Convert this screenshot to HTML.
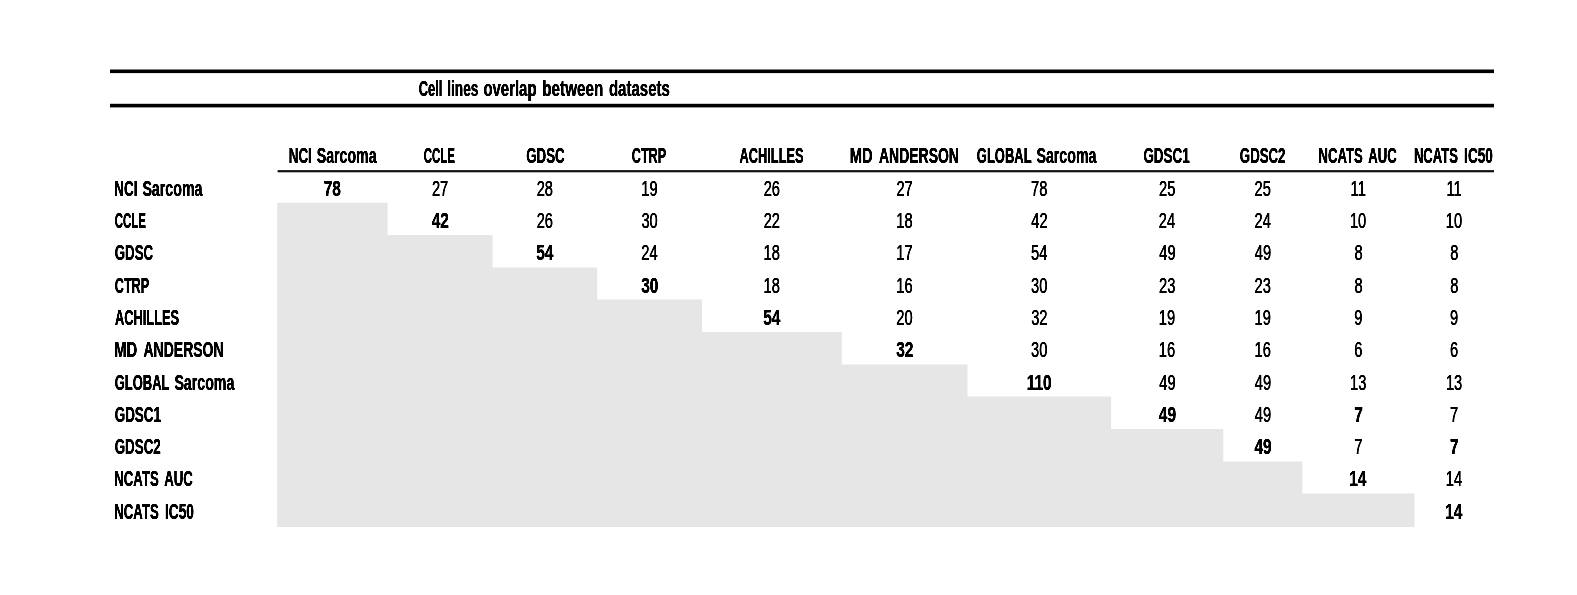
<!DOCTYPE html>
<html lang="en"><head><meta charset="utf-8"><title>Cell lines overlap between datasets</title>
<style>html,body{margin:0;padding:0;background:#fff}svg{display:block}text{font-family:"Liberation Sans",sans-serif;font-size:21.3px;fill:#000;stroke:#000;stroke-width:0.15;vector-effect:non-scaling-stroke;stroke-linejoin:round}.b{font-weight:bold;stroke-width:0.0}</style></head><body>
<svg width="1577" height="595" viewBox="0 0 1577 595">
<rect width="1577" height="595" fill="#fff"/>
<polygon fill="#e7e6e6" points="277.2,202.7 387.6,202.7 387.6,235.1 492.6,235.1 492.6,267.4 597.2,267.4 597.2,299.6 702.0,299.6 702.0,332.0 841.8,332.0 841.8,364.4 967.5,364.4 967.5,396.6 1111.1,396.6 1111.1,429.0 1223.3,429.0 1223.3,461.6 1302.3,461.6 1302.3,493.6 1414.5,493.6 1414.5,527.1 277.2,527.1"/>
<rect x="110" y="69.5" width="1384" height="3.6" fill="#000"/>
<rect x="110" y="103.8" width="1384" height="3.6" fill="#000"/>
<rect x="277.6" y="170.1" width="1216.4" height="2.2" fill="#111"/>
<defs>
<filter id="fr" x="0" y="0" width="1577" height="595" filterUnits="userSpaceOnUse" color-interpolation-filters="sRGB"><feGaussianBlur stdDeviation="0.32 0.2"/><feComponentTransfer><feFuncA type="linear" slope="1.6" intercept="0"/></feComponentTransfer></filter>
<filter id="fb" x="0" y="0" width="1577" height="595" filterUnits="userSpaceOnUse" color-interpolation-filters="sRGB"><feGaussianBlur stdDeviation="0.68 0.22"/><feComponentTransfer><feFuncA type="linear" slope="2.0" intercept="0"/></feComponentTransfer></filter>
</defs>
<g filter="url(#fb)">
<text class="b" y="96.40"><tspan x="418.65" textLength="23.69" lengthAdjust="spacingAndGlyphs">Cell</tspan> <tspan x="447.22" textLength="31.24" lengthAdjust="spacingAndGlyphs">lines</tspan> <tspan x="483.44" textLength="53.10" lengthAdjust="spacingAndGlyphs">overlap</tspan> <tspan x="542.30" textLength="60.94" lengthAdjust="spacingAndGlyphs">between</tspan> <tspan x="608.93" textLength="60.93" lengthAdjust="spacingAndGlyphs">datasets</tspan></text>
<text class="b" y="163.00"><tspan x="288.82" textLength="22.97" lengthAdjust="spacingAndGlyphs">NCI</tspan> <tspan x="316.77" textLength="59.79" lengthAdjust="spacingAndGlyphs">Sarcoma</tspan></text>
<text class="b" transform="translate(423.79 163.00) scale(0.5374 1)">CCLE</text>
<text class="b" transform="translate(526.24 163.00) scale(0.6235 1)">GDSC</text>
<text class="b" transform="translate(631.75 163.00) scale(0.5938 1)">CTRP</text>
<text class="b" transform="translate(739.55 163.00) scale(0.6013 1)">ACHILLES</text>
<text class="b" y="163.00"><tspan x="849.83" textLength="22.93" lengthAdjust="spacingAndGlyphs">MD</tspan> <tspan x="879.03" textLength="79.94" lengthAdjust="spacingAndGlyphs">ANDERSON</tspan></text>
<text class="b" y="163.00"><tspan x="976.85" textLength="54.47" lengthAdjust="spacingAndGlyphs">GLOBAL</tspan> <tspan x="1036.48" textLength="59.98" lengthAdjust="spacingAndGlyphs">Sarcoma</tspan></text>
<text class="b" transform="translate(1143.43 163.00) scale(0.6303 1)">GDSC1</text>
<text class="b" transform="translate(1239.84 163.00) scale(0.6220 1)">GDSC2</text>
<text class="b" y="163.00"><tspan x="1318.53" textLength="44.15" lengthAdjust="spacingAndGlyphs">NCATS</tspan> <tspan x="1368.22" textLength="28.48" lengthAdjust="spacingAndGlyphs">AUC</tspan></text>
<text class="b" y="163.00"><tspan x="1413.93" textLength="43.99" lengthAdjust="spacingAndGlyphs">NCATS</tspan> <tspan x="1464.11" textLength="28.80" lengthAdjust="spacingAndGlyphs">IC50</tspan></text>
<text class="b" y="195.60"><tspan x="114.31" textLength="23.08" lengthAdjust="spacingAndGlyphs">NCI</tspan> <tspan x="142.39" textLength="60.07" lengthAdjust="spacingAndGlyphs">Sarcoma</tspan></text>
<text class="b" transform="translate(114.79 227.92) scale(0.5356 1)">CCLE</text>
<text class="b" transform="translate(114.74 260.24) scale(0.6235 1)">GDSC</text>
<text class="b" transform="translate(114.75 292.56) scale(0.5938 1)">CTRP</text>
<text class="b" transform="translate(114.95 324.88) scale(0.6032 1)">ACHILLES</text>
<text class="b" y="357.20"><tspan x="114.23" textLength="22.98" lengthAdjust="spacingAndGlyphs">MD</tspan> <tspan x="143.48" textLength="80.09" lengthAdjust="spacingAndGlyphs">ANDERSON</tspan></text>
<text class="b" y="389.52"><tspan x="114.75" textLength="54.47" lengthAdjust="spacingAndGlyphs">GLOBAL</tspan> <tspan x="174.38" textLength="59.98" lengthAdjust="spacingAndGlyphs">Sarcoma</tspan></text>
<text class="b" transform="translate(114.73 421.84) scale(0.6303 1)">GDSC1</text>
<text class="b" transform="translate(114.73 454.16) scale(0.6275 1)">GDSC2</text>
<text class="b" y="486.48"><tspan x="114.33" textLength="44.38" lengthAdjust="spacingAndGlyphs">NCATS</tspan> <tspan x="164.27" textLength="28.63" lengthAdjust="spacingAndGlyphs">AUC</tspan></text>
<text class="b" y="518.80"><tspan x="114.33" textLength="44.39" lengthAdjust="spacingAndGlyphs">NCATS</tspan> <tspan x="164.95" textLength="29.06" lengthAdjust="spacingAndGlyphs">IC50</tspan></text>
<text class="b" transform="translate(323.76 195.60) scale(0.7250 1)">78</text>
<text class="b" transform="translate(431.70 227.92) scale(0.7250 1)">42</text>
<text class="b" transform="translate(536.14 260.24) scale(0.7250 1)">54</text>
<text class="b" transform="translate(641.20 292.56) scale(0.7250 1)">30</text>
<text class="b" transform="translate(763.14 324.88) scale(0.7250 1)">54</text>
<text class="b" transform="translate(896.13 357.20) scale(0.7250 1)">32</text>
<text class="b" transform="translate(1026.67 389.52) scale(0.7250 1)">110</text>
<text class="b" transform="translate(1158.80 421.84) scale(0.7250 1)">49</text>
<text class="b" transform="translate(1354.18 421.84) scale(0.7250 1)">7</text>
<text class="b" transform="translate(1254.40 454.16) scale(0.7250 1)">49</text>
<text class="b" transform="translate(1450.03 454.16) scale(0.7250 1)">7</text>
<text class="b" transform="translate(1349.28 486.48) scale(0.7250 1)">14</text>
<text class="b" transform="translate(1445.13 518.80) scale(0.7250 1)">14</text>
</g>
<g filter="url(#fr)">
<text transform="translate(431.88 195.60) scale(0.6900 1)">27</text>
<text transform="translate(536.68 195.60) scale(0.6900 1)">28</text>
<text transform="translate(641.26 195.60) scale(0.6900 1)">19</text>
<text transform="translate(763.68 195.60) scale(0.6900 1)">26</text>
<text transform="translate(896.43 195.60) scale(0.6900 1)">27</text>
<text transform="translate(1031.08 195.60) scale(0.6900 1)">78</text>
<text transform="translate(1158.98 195.60) scale(0.6900 1)">25</text>
<text transform="translate(1254.58 195.60) scale(0.6900 1)">25</text>
<text transform="translate(1350.61 195.60) scale(0.6900 1)">11</text>
<text transform="translate(1446.46 195.60) scale(0.6900 1)">11</text>
<text transform="translate(536.68 227.92) scale(0.6900 1)">26</text>
<text transform="translate(641.38 227.92) scale(0.6900 1)">30</text>
<text transform="translate(763.68 227.92) scale(0.6900 1)">22</text>
<text transform="translate(896.31 227.92) scale(0.6900 1)">18</text>
<text transform="translate(1031.31 227.92) scale(0.6900 1)">42</text>
<text transform="translate(1158.86 227.92) scale(0.6900 1)">24</text>
<text transform="translate(1254.46 227.92) scale(0.6900 1)">24</text>
<text transform="translate(1349.95 227.92) scale(0.6900 1)">10</text>
<text transform="translate(1445.80 227.92) scale(0.6900 1)">10</text>
<text transform="translate(641.26 260.24) scale(0.6900 1)">24</text>
<text transform="translate(763.56 260.24) scale(0.6900 1)">18</text>
<text transform="translate(896.31 260.24) scale(0.6900 1)">17</text>
<text transform="translate(1031.08 260.24) scale(0.6900 1)">54</text>
<text transform="translate(1159.21 260.24) scale(0.6900 1)">49</text>
<text transform="translate(1254.81 260.24) scale(0.6900 1)">49</text>
<text transform="translate(1354.38 260.24) scale(0.6900 1)">8</text>
<text transform="translate(1450.23 260.24) scale(0.6900 1)">8</text>
<text transform="translate(763.56 292.56) scale(0.6900 1)">18</text>
<text transform="translate(896.31 292.56) scale(0.6900 1)">16</text>
<text transform="translate(1031.08 292.56) scale(0.6900 1)">30</text>
<text transform="translate(1158.98 292.56) scale(0.6900 1)">23</text>
<text transform="translate(1254.58 292.56) scale(0.6900 1)">23</text>
<text transform="translate(1354.38 292.56) scale(0.6900 1)">8</text>
<text transform="translate(1450.23 292.56) scale(0.6900 1)">8</text>
<text transform="translate(896.31 324.88) scale(0.6900 1)">20</text>
<text transform="translate(1031.19 324.88) scale(0.6900 1)">32</text>
<text transform="translate(1158.86 324.88) scale(0.6900 1)">19</text>
<text transform="translate(1254.46 324.88) scale(0.6900 1)">19</text>
<text transform="translate(1354.27 324.88) scale(0.6900 1)">9</text>
<text transform="translate(1450.12 324.88) scale(0.6900 1)">9</text>
<text transform="translate(1031.08 357.20) scale(0.6900 1)">30</text>
<text transform="translate(1158.86 357.20) scale(0.6900 1)">16</text>
<text transform="translate(1254.46 357.20) scale(0.6900 1)">16</text>
<text transform="translate(1354.27 357.20) scale(0.6900 1)">6</text>
<text transform="translate(1450.12 357.20) scale(0.6900 1)">6</text>
<text transform="translate(1159.21 389.52) scale(0.6900 1)">49</text>
<text transform="translate(1254.81 389.52) scale(0.6900 1)">49</text>
<text transform="translate(1350.06 389.52) scale(0.6900 1)">13</text>
<text transform="translate(1445.91 389.52) scale(0.6900 1)">13</text>
<text transform="translate(1254.81 421.84) scale(0.6900 1)">49</text>
<text transform="translate(1450.12 421.84) scale(0.6900 1)">7</text>
<text transform="translate(1354.27 454.16) scale(0.6900 1)">7</text>
<text transform="translate(1445.80 486.48) scale(0.6900 1)">14</text>
</g>
</svg></body></html>
